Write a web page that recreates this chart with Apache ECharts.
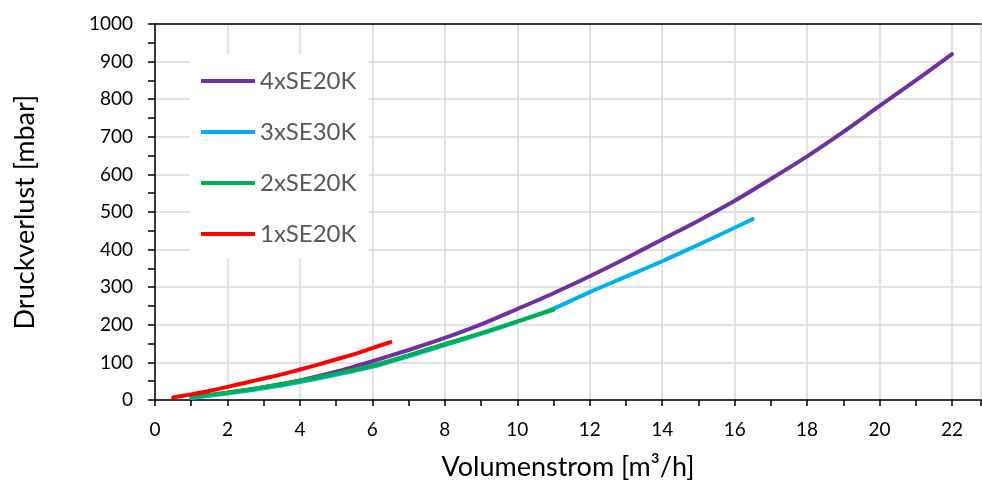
<!DOCTYPE html>
<html>
<head>
<meta charset="utf-8">
<script src="https://cdn.jsdelivr.net/npm/echarts@6/dist/echarts.min.js"></script>
<style>
html, body { margin: 0; padding: 0; background: #fff; }
#echart { width: 982px; height: 491px; }
</style>
</head>
<body>
<div id="echart"></div>
<script>
// Volumenstrom [m3/h] und Druckverlust [mbar]
var seriesNames = ['4xSE20K', '3xSE30K', '2xSE20K', '1xSE20K'];
var seriesColors = ['#7030A0', '#00B0F0', '#00B050', '#FF0000'];

var x4 = [1, 2, 3, 4, 5, 6, 7, 8, 9, 10, 11, 12, 13, 14, 15, 16, 17, 18, 19, 20, 21, 22];
var y4 = [7, 19, 34, 52, 75, 103, 133, 165, 201, 242, 284, 329, 377, 427, 477, 530, 588, 648, 713, 782, 850, 920];

var x3 = [1, 2, 3, 4, 5, 6, 7, 8, 9, 10, 11, 12, 13, 14, 15, 16, 16.5];
var y3 = [5, 17, 31, 48, 67, 88, 116, 146, 176, 208, 243, 287, 328, 369, 413, 458, 481];

var x2 = [1, 2, 3, 4, 5, 6, 7, 8, 9, 10, 11];
var y2 = [8, 20, 34, 51, 70, 91, 119, 149, 178, 209, 240];

var x1 = [0.5, 1, 1.5, 2, 2.5, 3, 3.5, 4, 4.5, 5, 5.5, 6, 6.5];
var y1 = [7, 15, 24, 35, 46, 57, 68, 81, 94, 108, 122, 138, 154];

var allX = [x4, x3, x2, x1];
var allY = [y4, y3, y2, y1];

var font = 'Lato, "Open Sans", sans-serif';

function pairs(xs, ys) {
    var out = [];
    for (var i = 0; i < xs.length; i++) {
        out.push([xs[i], ys[i]]);
    }
    return out;
}

var series = [];
for (var i = 0; i < seriesNames.length; i++) {
    series.push({
        name: seriesNames[i],
        type: 'line',
        xAxisIndex: 0,
        smooth: 0.3,
        showSymbol: false,
        color: seriesColors[i],
        lineStyle: { width: 4, cap: 'round', color: seriesColors[i] },
        data: pairs(allX[i], allY[i]),
        animation: false
    });
}

var myChart = echarts.init(document.getElementById('echart'));
var option = {
    backgroundColor: '#fff',
    grid: { left: 155, right: 1, top: 24, bottom: 91 },
    legend: {
        data: seriesNames,
        orient: 'vertical',
        left: 190,
        top: 55,
        backgroundColor: '#fff',
        padding: [14, 12, 12, 11],
        icon: 'rect',
        itemWidth: 54,
        itemHeight: 4,
        itemGap: 27,
        textStyle: { fontSize: 24, lineHeight: 24, color: '#595959', fontFamily: font }
    },
    xAxis: [
        {
            type: 'value',
            min: 0,
            max: 22.8,
            interval: 2,
            name: 'Volumenstrom [m³/h]',
            nameLocation: 'middle',
            nameGap: 54,
            nameTextStyle: { fontSize: 27, color: '#000', fontFamily: font },
            axisLine: { lineStyle: { color: '#000', width: 1.5 } },
            axisTick: { inside: false, length: 6, lineStyle: { color: '#000', width: 1.5 } },
            minorTick: { show: true, splitNumber: 2, length: 6, lineStyle: { color: '#000', width: 1.5 } },
            axisLabel: { margin: 20, fontSize: 19, color: '#000', fontFamily: font, showMaxLabel: false },
            splitLine: { show: true, lineStyle: { color: '#d9d9d9', width: 1.5 } }
        },
        {
            type: 'value',
            position: 'top',
            min: 0,
            max: 22.8,
            axisLine: { show: true, lineStyle: { color: '#000', width: 1.5 } },
            axisTick: { show: false },
            axisLabel: { show: false },
            splitLine: { show: false }
        }
    ],
    yAxis: {
        type: 'value',
        min: 0,
        max: 1000,
        interval: 100,
        name: 'Druckverlust [mbar]',
        nameLocation: 'middle',
        nameGap: 116,
        nameTextStyle: { fontSize: 27, color: '#000', fontFamily: font },
        axisLine: { show: true, lineStyle: { color: '#000', width: 1.5 } },
        axisTick: { show: true, length: 7, lineStyle: { color: '#000', width: 1.5 } },
        minorTick: { show: true, splitNumber: 2, length: 7, lineStyle: { color: '#000', width: 1.5 } },
        axisLabel: {
            margin: 22,
            fontSize: 19,
            color: '#000',
            fontFamily: font,
            formatter: function (v) { return String(v); }
        },
        splitLine: { show: true, lineStyle: { color: '#d9d9d9', width: 1.5 } }
    },
    series: series
};
myChart.setOption(option);
</script>
</body>
</html>
